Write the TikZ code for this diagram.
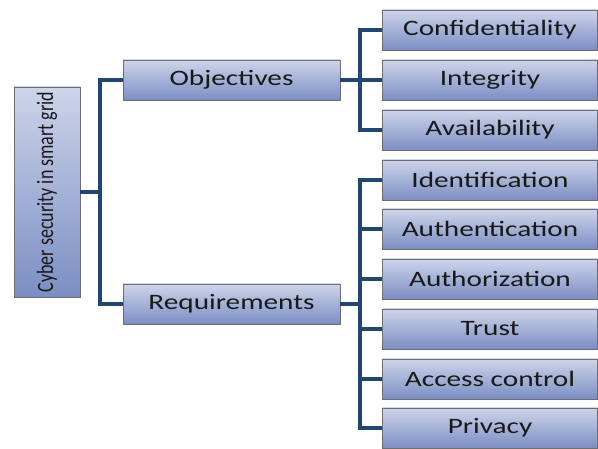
\documentclass[tikz,border=0pt]{standalone}
\usepackage{fontspec}
\setmainfont{Carlito}[FakeStretch=1.33]
\newfontfamily\rootfont{Carlito}
\usepackage{tikz}
\usetikzlibrary{shadows}

\definecolor{boxtop}{HTML}{CDD4EA}
\definecolor{boxbot}{HTML}{7B8EC3}
\definecolor{linkblue}{HTML}{21466F}
\definecolor{boxline}{HTML}{6E6E6E}

\begin{document}
\begin{tikzpicture}[x=1pt,y=-1pt]
	
	\tikzset{box/.style = {shape=rectangle,draw=boxline,line width=0.7pt,top color=boxtop,bottom color=boxbot,
		drop shadow={shadow xshift=1.2pt,shadow yshift=-1.5pt,opacity=0.35},
		text=black!90,font=\fontsize{22}{26}\selectfont,inner sep=0pt}}
	\tikzset{leaf/.style = {box,minimum width=215pt,minimum height=40pt}}
	\tikzset{mid/.style = {box,minimum width=217pt,minimum height=40pt}}
	\tikzset{link/.style = {draw=linkblue,line width=3.8pt}}
	
	\fill[white] (0,0) rectangle (598,449);
	
	\node[box,minimum width=66pt,minimum height=210pt] (root) at (47,192)
		{\rotatebox{90}{\scalebox{1}[1.3]{\rootfont\fontsize{18}{22}\selectfont Cyber security in smart grid}}};
	
	\node[mid] (obj) at (231.5,80) {Objectives};
	\node[mid] (req) at (231.5,304) {Requirements};
	
	\node[leaf] (conf)  at (490,30)  {Confidentiality};
	\node[leaf] (integ) at (490,80)  {Integrity};
	\node[leaf] (avail) at (490,130) {Availability};
	\node[leaf] (ident) at (490,180) {Identification};
	\node[leaf] (authe) at (490,229) {Authentication};
	\node[leaf] (autho) at (490,279) {Authorization};
	\node[leaf] (trust) at (490,329) {Trust};
	\node[leaf] (acc)   at (490,379) {Access control};
	\node[leaf] (priv)  at (490,428) {Privacy};
	
	\coordinate (j1) at (100,192);
	\coordinate (j2) at (360,80);
	\coordinate (j3) at (360,304);
	
	\draw[link] (root.east) -- (j1);
	\draw[link] (obj.west) -| (j1) |- (req.west);
	
	\draw[link] (obj.east) -- (j2);
	\draw[link] (conf.west) -| (j2) |- (avail.west);
	\draw[link] (integ.west) -- (j2);
	
	\draw[link] (req.east) -- (j3);
	\draw[link] (ident.west) -| (j3) |- (priv.west);
	\foreach \n in {authe,autho,trust,acc}
		\draw[link] (\n.west) -- (\n.west -| j3);
	\end{tikzpicture}
\end{document}
